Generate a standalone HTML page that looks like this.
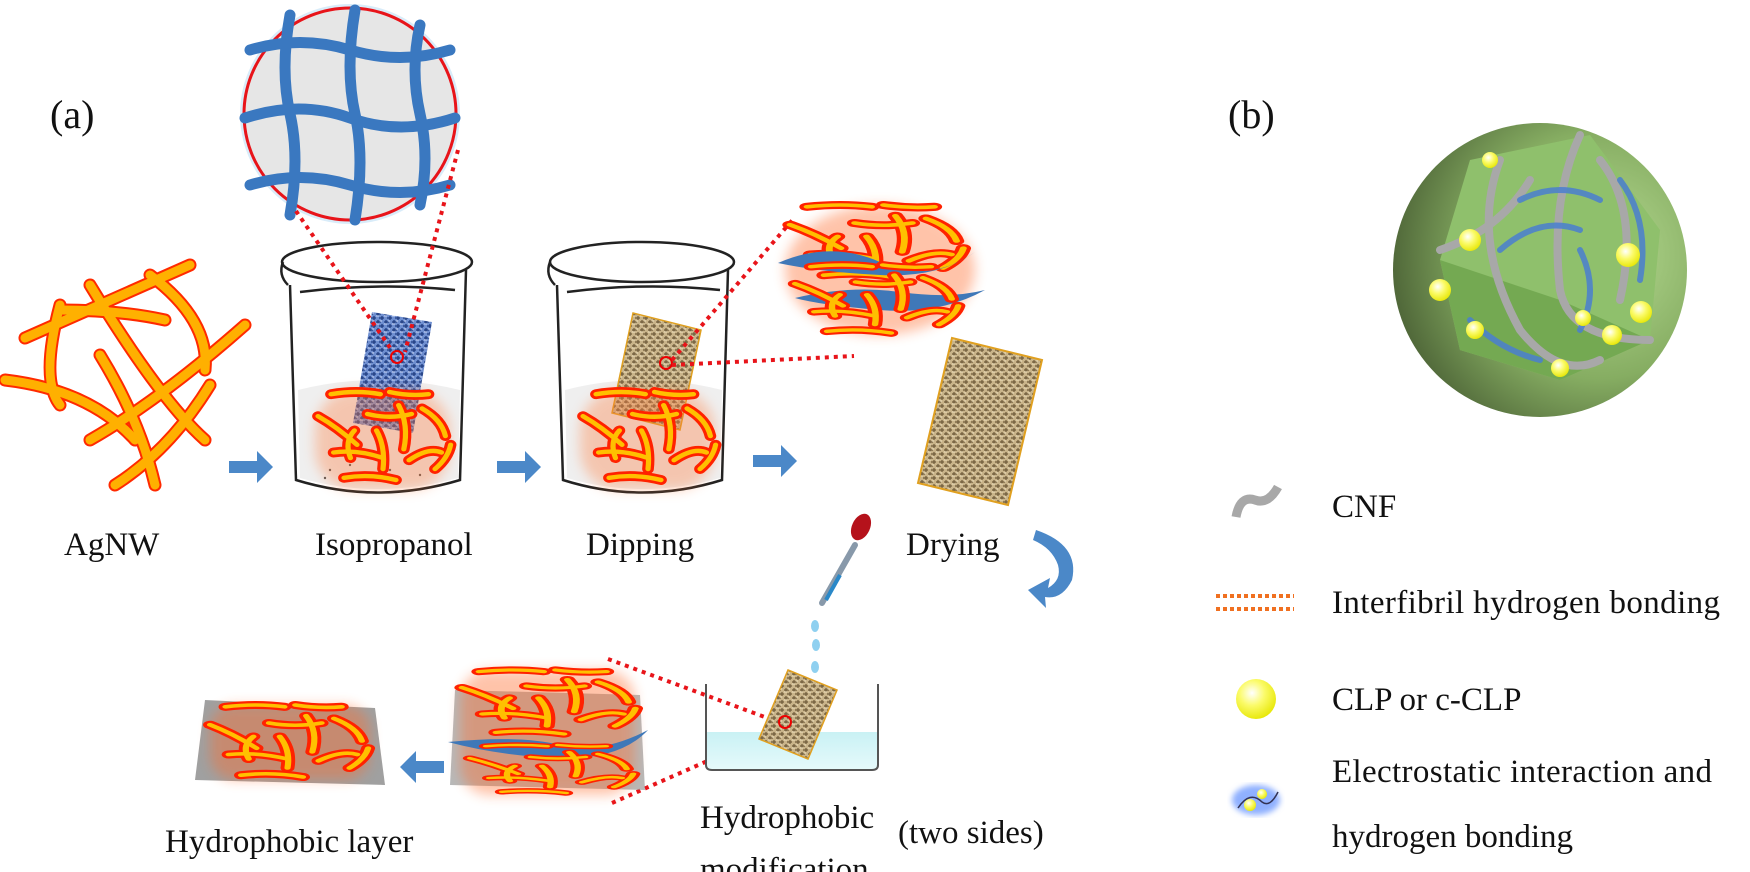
<!DOCTYPE html>
<html><head><meta charset="utf-8"><style>
html,body{margin:0;padding:0;background:#fff}
svg{display:block}
text{font-family:"Liberation Serif",serif;fill:#111}
</style></head><body>
<svg width="1750" height="872" viewBox="0 0 1750 872" xmlns="http://www.w3.org/2000/svg">
<defs>
<pattern id="burlap" width="8" height="8" patternUnits="userSpaceOnUse">
<rect width="8" height="8" fill="#c9b48a"/>
<path d="M0 2h5M3 6h5M2 0v4M6 4v4" stroke="#6e5a3a" stroke-width="1.2"/>
<path d="M0 4h3M5 0v2" stroke="#efe2c0" stroke-width="1"/>
</pattern>
<pattern id="bluefab" width="8" height="8" patternUnits="userSpaceOnUse">
<rect width="8" height="8" fill="#6f8fd0"/>
<path d="M0 2h5M3 6h5M2 0v4M6 4v4" stroke="#1f3c80" stroke-width="1.3"/>
<path d="M0 4h3M5 0v2" stroke="#c8d6f4" stroke-width="1"/>
</pattern>
<filter id="glow" x="-30%" y="-30%" width="160%" height="160%"><feGaussianBlur stdDeviation="6"/></filter>
<filter id="blur3"><feGaussianBlur stdDeviation="3"/></filter>
<radialGradient id="sph" cx="0.7" cy="0.45" r="0.7">
<stop offset="0" stop-color="#b7dc93"/><stop offset="0.6" stop-color="#86ad62"/><stop offset="1" stop-color="#51693a"/>
</radialGradient>
<radialGradient id="yel" cx="0.4" cy="0.35" r="0.7">
<stop offset="0" stop-color="#ffffff"/><stop offset="0.45" stop-color="#fbfb6a"/><stop offset="1" stop-color="#e6e600"/>
</radialGradient>
<linearGradient id="water" x1="0" y1="0" x2="0" y2="1"><stop offset="0" stop-color="#c9f1f4"/><stop offset="1" stop-color="#e6fafb"/></linearGradient>
<g id="rp">
<path d="M10 2 Q30 -2 48 2"/><path d="M55 0 Q70 4 85 2"/><path d="M0 22 Q15 32 30 48"/><path d="M62 12 Q70 30 66 52"/><path d="M38 20 Q55 25 72 20"/><path d="M80 15 Q95 25 98 40"/><path d="M12 55 Q30 52 50 60"/><path d="M45 35 Q52 50 50 70"/><path d="M70 62 Q85 50 95 55"/><path d="M20 78 Q40 74 60 80"/><path d="M90 70 Q100 60 102 48"/><path d="M28 35 Q20 45 25 60"/>
</g>
<g id="rodsA" stroke-linecap="round" fill="none">
<use href="#rp" stroke="#ff2200" stroke-width="9" style="vector-effect:non-scaling-stroke"/>
<use href="#rp" stroke="#ffc000" stroke-width="4"/>
</g>
</defs>

<!-- labels -->
<text x="50" y="128" font-size="40">(a)</text>
<text x="1228" y="128" font-size="40">(b)</text>
<text x="64" y="555" font-size="33">AgNW</text>
<text x="315" y="555" font-size="33">Isopropanol</text>
<text x="586" y="555" font-size="33">Dipping</text>
<text x="906" y="555" font-size="33">Drying</text>
<text x="165" y="852" font-size="33">Hydrophobic layer</text>
<text x="700" y="828" font-size="33">Hydrophobic</text>
<text x="700" y="880" font-size="33">modification</text>
<text x="898" y="843" font-size="33">(two sides)</text>
<text x="1332" y="517" font-size="33">CNF</text>
<text x="1332" y="613" font-size="33" textLength="388">Interfibril hydrogen bonding</text>
<text x="1332" y="710" font-size="33">CLP or c-CLP</text>
<text x="1332" y="782" font-size="33" textLength="380">Electrostatic interaction and</text>
<text x="1332" y="847" font-size="33">hydrogen bonding</text>

<!-- AgNW network -->
<g stroke-linecap="round" fill="none">
<g stroke="#ff2a00" stroke-width="13">
<path d="M25 338 Q110 300 190 265"/><path d="M90 285 Q160 400 205 440"/><path d="M60 305 Q40 380 60 405"/><path d="M5 380 Q90 390 135 440"/><path d="M150 275 Q210 320 205 370"/><path d="M245 325 Q160 400 90 440"/><path d="M210 385 Q170 450 115 485"/><path d="M100 355 Q140 420 155 485"/><path d="M60 310 Q120 310 165 320"/>
</g>
<g stroke="#ffb000" stroke-width="9">
<path d="M25 338 Q110 300 190 265"/><path d="M90 285 Q160 400 205 440"/><path d="M60 305 Q40 380 60 405"/><path d="M5 380 Q90 390 135 440"/><path d="M150 275 Q210 320 205 370"/><path d="M245 325 Q160 400 90 440"/><path d="M210 385 Q170 450 115 485"/><path d="M100 355 Q140 420 155 485"/><path d="M60 310 Q120 310 165 320"/>
</g>
</g>

<!-- magnifier -->
<circle cx="350" cy="114" r="110" fill="#bfe0f5" opacity="0.6"/>
<circle cx="350" cy="114" r="106" fill="#e6e6e6" stroke="#e8141a" stroke-width="3"/>
<g stroke="#3a78c0" stroke-width="11" fill="none" stroke-linecap="round">
<path d="M250 50 Q300 35 350 50 T450 50"/><path d="M245 118 Q300 100 350 118 T455 118"/><path d="M250 185 Q300 170 350 185 T450 185"/>
<path d="M290 15 Q280 70 290 114 T290 215"/><path d="M355 10 Q345 70 355 114 T355 220"/><path d="M420 25 Q410 70 420 114 T420 205"/>
</g>

<!-- beaker 1 -->
<g fill="none" stroke="#222" stroke-width="2.5">
<ellipse cx="377" cy="262" rx="95" ry="20" fill="#fff"/>
<path d="M283 262 Q278 275 288 285"/>
<path d="M290 285 L296 480 Q377 505 460 480 L466 270"/>
<path d="M300 292 Q380 282 455 290"/>
</g>
<path d="M298 390 Q377 370 460 390 L458 478 Q377 500 300 478 Z" fill="#efefef"/>
<g fill="#555"><circle cx="330" cy="470" r="1.2"/><circle cx="350" cy="465" r="1.2"/><circle cx="390" cy="470" r="1.2"/><circle cx="420" cy="475" r="1.2"/><circle cx="340" cy="480" r="1.2"/><circle cx="410" cy="462" r="1.2"/><circle cx="325" cy="478" r="1.2"/><circle cx="365" cy="474" r="1.2"/></g>
<polygon points="372,312 432,322 413,433 353,423" fill="url(#bluefab)"/>
<circle cx="397" cy="357" r="6" fill="none" stroke="#e00" stroke-width="2"/>
<g filter="url(#glow)" opacity="0.35"><rect x="315" y="390" width="135" height="100" rx="40" fill="#ff7a3a"/></g>
<use href="#rodsA" transform="translate(318,392) scale(1.3,1.1)"/>

<!-- beaker 2 -->
<g fill="none" stroke="#222" stroke-width="2.5">
<ellipse cx="642" cy="262" rx="92" ry="20" fill="#fff"/>
<path d="M550 262 Q545 275 555 285"/>
<path d="M557 285 L563 480 Q642 505 722 480 L728 270"/>
<path d="M567 292 Q645 282 720 290"/>
</g>
<path d="M565 390 Q642 370 722 390 L720 478 Q642 500 567 478 Z" fill="#efefef"/>
<polygon points="633,313 701,330 680,430 612,413" fill="url(#burlap)" stroke="#e0a020" stroke-width="1.5"/>
<circle cx="666" cy="363" r="6" fill="none" stroke="#e00" stroke-width="2"/>
<g filter="url(#glow)" opacity="0.35"><rect x="580" y="390" width="135" height="100" rx="40" fill="#ff7a3a"/></g>
<use href="#rodsA" transform="translate(583,392) scale(1.3,1.1)"/>

<!-- red dotted lines -->
<g stroke="#e8141a" stroke-width="4" stroke-dasharray="4 5" fill="none">
<path d="M296 211 L393 352"/><path d="M458 150 L405 352"/>
<path d="M672 365 L854 356"/><path d="M672 360 L795 217"/>
<path d="M608 659 L781 723"/><path d="M612 803 L787 726"/>
</g>

<!-- top right stack -->
<g filter="url(#glow)" opacity="0.4"><ellipse cx="880" cy="270" rx="95" ry="65" fill="#ff6a2a"/></g>
<use href="#rodsA" transform="translate(790,205) scale(1.7,0.9)"/>
<g fill="#3f78b8">
<path d="M778 263 Q830 240 880 262 T975 252 Q940 278 880 275 T778 263Z"/>
<path d="M795 298 Q850 285 900 292 T985 290 Q940 315 880 310 T795 298Z"/>
</g>
<use href="#rodsA" transform="translate(795,265) scale(1.6,0.85)"/>

<!-- right fabric -->
<polygon points="952,338 1042,360 1008,505 918,483" fill="url(#burlap)" stroke="#e0a020" stroke-width="2"/>

<!-- arrows -->
<g fill="#4b88c8">
<path d="M229 461 h28 v-10 l16 16 l-16 16 v-10 h-28z"/>
<path d="M497 461 h28 v-10 l16 16 l-16 16 v-10 h-28z"/>
<path d="M753 455 h28 v-10 l16 16 l-16 16 v-10 h-28z"/>
<path d="M444 761 h-28 v-10 l-16 16 l16 16 v-10 h28z"/>
<path d="M1036 530 Q1080 545 1072 580 Q1062 600 1045 597 L1046 608 L1028 590 L1050 578 L1048 588 Q1062 580 1058 565 Q1052 548 1033 540Z"/>
</g>

<!-- dropper -->
<line x1="855" y1="545" x2="822" y2="603" stroke="#8899aa" stroke-width="6" stroke-linecap="round"/>
<line x1="840" y1="575" x2="826" y2="600" stroke="#2a88c8" stroke-width="4"/>
<ellipse cx="861" cy="527" rx="9" ry="14" fill="#b5121b" transform="rotate(25 861 527)"/>
<g fill="#8fd0f0"><ellipse cx="815" cy="626" rx="4" ry="6"/><ellipse cx="816" cy="645" rx="4" ry="6"/><ellipse cx="815" cy="667" rx="4" ry="6"/></g>

<!-- dish -->
<path d="M706 732 L706 765 Q706 770 712 770 L872 770 Q878 770 878 765 L878 732 Z" fill="url(#water)"/>
<path d="M706 684 L706 765 Q706 770 712 770 L872 770 Q878 770 878 765 L878 684" fill="none" stroke="#555" stroke-width="2"/>
<polygon points="788,670 837,690 808,759 759,739" fill="url(#burlap)" stroke="#e0a020" stroke-width="1.5"/>
<circle cx="785" cy="722" r="6" fill="none" stroke="#e00" stroke-width="2"/>

<!-- bottom middle stack -->
<polygon points="455,690 640,695 645,790 450,785" fill="#9a9a9a" opacity="0.7"/>
<g filter="url(#glow)" opacity="0.4"><rect x="460" y="670" width="175" height="125" rx="30" fill="#ff6a2a"/></g>
<use href="#rodsA" transform="translate(462,670) scale(1.7,0.8)"/>
<path d="M448 742 Q520 735 560 745 T648 730 Q620 760 560 758 T448 742Z" fill="#3f78b8"/>
<use href="#rodsA" transform="translate(470,745) scale(1.6,0.6)"/>

<!-- bottom left layer -->
<polygon points="205,700 375,708 385,785 195,780" fill="#a0a0a0"/>
<g filter="url(#glow)" opacity="0.4"><rect x="210" y="705" width="160" height="75" rx="25" fill="#ff6a2a"/></g>
<use href="#rodsA" transform="translate(210,705) scale(1.55,0.9)"/>

<!-- sphere -->
<circle cx="1540" cy="270" r="147" fill="url(#sph)"/>
<path d="M1470 160 L1590 135 L1660 230 L1650 340 L1560 380 L1460 350 L1440 260 Z" fill="#8fc06c"/>
<path d="M1440 260 L1560 300 L1650 340 L1560 380 L1460 350Z" fill="#74a952"/>
<g stroke="#a8a8a8" stroke-width="8" fill="none" stroke-linecap="round">
<path d="M1500 160 Q1470 240 1520 330 Q1560 380 1600 360"/>
<path d="M1580 135 Q1550 200 1560 290 Q1570 340 1650 340"/>
<path d="M1440 250 Q1500 230 1530 180"/>
<path d="M1600 160 Q1640 210 1620 300"/>
</g>
<g stroke="#4a7fd0" stroke-width="6" fill="none" opacity="0.85" stroke-linecap="round">
<path d="M1520 200 Q1560 180 1600 200"/><path d="M1500 250 Q1540 215 1580 230"/><path d="M1580 250 Q1600 290 1580 330"/><path d="M1470 320 Q1500 350 1540 360"/><path d="M1620 180 Q1650 220 1640 280"/>
</g>
<g fill="url(#yel)">
<circle cx="1628" cy="255" r="12"/><circle cx="1641" cy="312" r="11"/><circle cx="1440" cy="290" r="11"/><circle cx="1470" cy="240" r="11"/><circle cx="1490" cy="160" r="8"/><circle cx="1612" cy="335" r="10"/><circle cx="1560" cy="368" r="9"/><circle cx="1475" cy="330" r="9"/><circle cx="1583" cy="318" r="8"/>
</g>

<!-- legend icons -->
<path d="M1236 517 Q1240 495 1255 500 Q1268 505 1278 487" stroke="#a8a8a8" stroke-width="9" fill="none"/>
<g stroke="#f07020" stroke-width="4" stroke-dasharray="4 3"><line x1="1216" y1="596" x2="1294" y2="596"/><line x1="1216" y1="609" x2="1294" y2="609"/></g>
<circle cx="1256" cy="699" r="20" fill="url(#yel)"/>
<ellipse cx="1256" cy="800" rx="24" ry="15" fill="#8fb0ff" filter="url(#blur3)"/>
<path d="M1238 808 Q1250 790 1262 802 Q1270 808 1278 792" stroke="#335" stroke-width="1.5" fill="none"/>
<circle cx="1250" cy="805" r="6" fill="url(#yel)"/><circle cx="1262" cy="794" r="5" fill="url(#yel)"/>
</svg>
</body></html>
